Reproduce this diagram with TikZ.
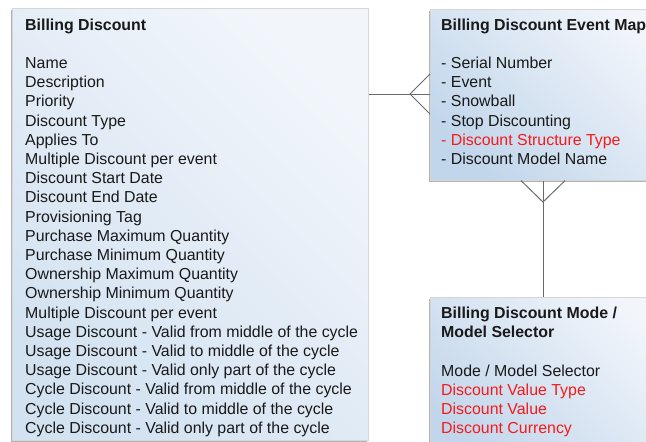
\documentclass[tikz,border=0pt]{standalone}
\usepackage{fontspec}
\setmainfont{Liberation Sans}
\usetikzlibrary{calc,shadows}

\definecolor{boxlight}{HTML}{F2F6FB}
\definecolor{boxdark}{HTML}{C2D6EB}
\definecolor{bigdark}{HTML}{D3E2F1}
\definecolor{linkgray}{HTML}{6A6A6A}
\definecolor{attrred}{HTML}{F51A1A}

\begin{document}
\begin{tikzpicture}[x=1pt, y=-1pt,
    entity/.style={draw=black!16, line width=0.6pt, anchor=north west, inner sep=0pt,
        top color=boxlight, bottom color=boxdark, shading angle=-45,
        drop shadow={shadow xshift=-1.2pt, shadow yshift=-1.2pt, fill=black, opacity=0.3}},
    attr/.style={anchor=base west, inner sep=0pt, text=black!90,
        font=\fontsize{15.9}{19.2}\selectfont},
    title/.style={attr, font=\fontsize{15.9}{19.2}\selectfont\bfseries},
    key/.style={attr, text=attrred},
    link/.style={draw=linkgray, line width=1pt}]

    \useasboundingbox (0,0) rectangle (646,442);
    \clip (0,0) rectangle (646,442);

    % draw the entities (they run past the right and bottom edge)
    \node[entity, bottom color=bigdark, shading angle=-45,
        minimum width=356pt, minimum height=432pt] (discount) at (12,8) {};
    \node[entity, minimum width=250pt, minimum height=171pt] (evmap) at (430,9) {};
    \node[entity, minimum width=250pt, minimum height=170pt] (selector) at (430,297) {};

    % the texts
    \node[title] (discount-t) at (25,30) {Billing Discount};
    \foreach \a [count=\i] in {Name, Description, Priority, Discount Type, Applies To,
        Multiple Discount per event, Discount Start Date, Discount End Date,
        Provisioning Tag, Purchase Maximum Quantity, Purchase Minimum Quantity,
        Ownership Maximum Quantity, Ownership Minimum Quantity,
        Multiple Discount per event,
        Usage Discount - Valid from middle of the cycle,
        Usage Discount - Valid to middle of the cycle,
        Usage Discount - Valid only part of the cycle,
        Cycle Discount - Valid from middle of the cycle,
        Cycle Discount - Valid to middle of the cycle,
        Cycle Discount - Valid only part of the cycle}
        \node[attr] (discount-\i) at (25,49.2+19.2*\i) {\a};

    \node[title] (evmap-t) at (441,30) {Billing Discount Event Map};
    \foreach \a/\s [count=\i] in {- Serial Number/attr, - Event/attr, - Snowball/attr,
        - Stop Discounting/attr, - Discount Structure Type/key,
        - Discount Model Name/attr}
        \node[\s] (evmap-\i) at (441,49.2+19.2*\i) {\a};

    \node[title] (selector-t1) at (441,318) {Billing Discount Mode /};
    \node[title] (selector-t2) at (441,337.2) {Model Selector};
    \node[attr] (selector-1) at (441,376.2) {Mode / Model Selector};
    \node[key] (selector-2) at (441,395.4) {Discount Value Type};
    \node[key] (selector-3) at (441,414.6) {Discount Value};
    \node[key] (selector-4) at (441,433.8) {Discount Currency};

    % draw the connectors (crow's feet at the many side)
    \coordinate (foot1) at (410,94);
    \draw[link] (foot1 -| discount.east) -- (foot1 -| evmap.west);
    \draw[link] ($(foot1 -| evmap.west)+(0,-20)$) -- (foot1) -- ($(foot1 -| evmap.west)+(0,20)$);

    \coordinate (foot2) at (543,202);
    \draw[link] (foot2 |- evmap.south) -- (foot2 |- selector.north);
    \draw[link] ($(foot2 |- evmap.south)+(-22,0)$) -- (foot2) -- ($(foot2 |- evmap.south)+(22,0)$);
\end{tikzpicture}
\end{document}
